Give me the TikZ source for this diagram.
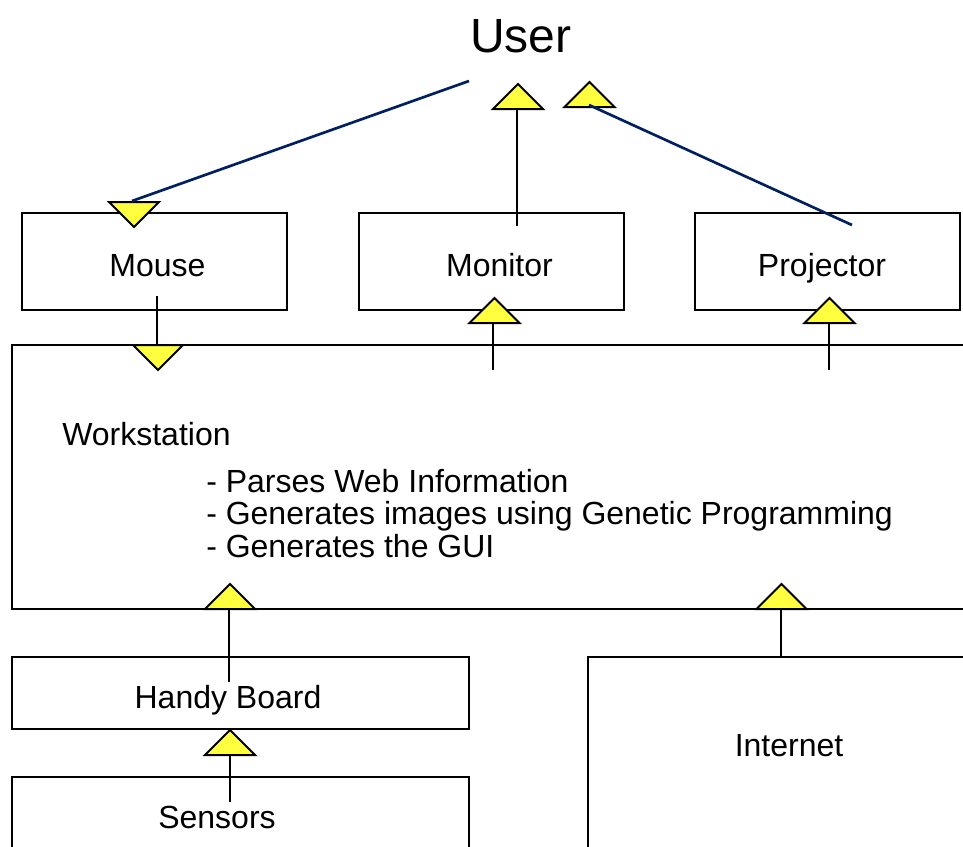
\documentclass[tikz,border=0pt]{standalone}
\usepackage{fontspec}
\setmainfont{Liberation Sans}
\usetikzlibrary{fit}
\definecolor{navyline}{RGB}{0,32,96}
\definecolor{triyellow}{RGB}{255,255,64}
\begin{document}
\begin{tikzpicture}[x=0.75pt,y=-0.75pt,
  box/.style={draw=black,line width=1.5pt,inner sep=0pt,outer sep=0pt},
  lbl/.style={inner sep=0pt,anchor=base,font=\fontsize{24}{28}\selectfont},
  lbll/.style={inner sep=0pt,anchor=base west,font=\fontsize{24}{28}\selectfont},
  conn/.style={draw=black,line width=1.1pt},
  navyconn/.style={draw=navyline,line width=2pt},
  tri/.style={draw=black,fill=triyellow,line width=1.5pt,line join=miter},
  pics/uptri/.style={code={\draw[tri] (-25,0) -- (25,0) -- (0,-25) -- cycle;}},
  pics/downtri/.style={code={\draw[tri] (-25,0) -- (25,0) -- (0,25) -- cycle;}}
]
\useasboundingbox (0,0) rectangle (963,846);
\clip (0,0) rectangle (963,846);

% boxes
\node[box,fit={(22,213) (287,310)}] (mouse) {};
\node[box,fit={(359,213) (624,310)}] (monitor) {};
\node[box,fit={(695,213) (960,310)}] (projector) {};
\node[box,fit={(12,345) (1000,609)}] (workstation) {};
\node[box,fit={(12,657) (469,729)}] (handy) {};
\node[box,fit={(12,777) (469,900)}] (sensors) {};
\node[box,fit={(588,657) (1000,900)}] (internet) {};

% texts
\node[lbl,font=\fontsize{36}{40}\selectfont] (user) at (521,52) {User};
\node[lbl] (mouseT) at (157.5,276.5) {Mouse};
\node[lbl] (monitorT) at (499.5,276.5) {Monitor};
\node[lbl] (projectorT) at (822,276.5) {Projector};
\node[lbll] (wsT) at (62,445.5) {Workstation};
\node[lbll] (ws1) at (206,492.5) {- Parses Web Information};
\node[lbll] (ws2) at (206,524.5) {- Generates images using Genetic Programming};
\node[lbll] (ws3) at (206,557.5) {- Generates the GUI};
\node[lbl] (handyT) at (228,708.5) {Handy Board};
\node[lbl] (sensorsT) at (217,828.5) {Sensors};
\node[lbl] (internetT) at (789,756.5) {Internet};

% triangles
\pic at (134,202) {downtri};
\pic at (518,109) {uptri};
\pic at (589.5,107) {uptri};
\pic at (158,345) {downtri};
\pic at (494.5,323) {uptri};
\pic at (829.5,323) {uptri};
\pic at (230,609) {uptri};
\pic at (781.5,609) {uptri};
\pic at (230,755) {uptri};

% connector end points
\coordinate (userL) at (469,81);
\coordinate (mouseTop) at (132,201);
\coordinate (monUp) at (517,109);
\coordinate (monIn) at (517,226);
\coordinate (projUp) at (589,105);
\coordinate (projIn) at (852,225);
\coordinate (mouseIn) at (157,296);
\coordinate (wsTopL) at (157,345);
\coordinate (monBot) at (493,323);
\coordinate (wsIn1) at (493,370);
\coordinate (projBot) at (829,323);
\coordinate (wsIn2) at (829,370);
\coordinate (wsBotL) at (229,609);
\coordinate (handyIn) at (229,682);
\coordinate (handyBot) at (230,755);
\coordinate (sensIn) at (230,802);
\coordinate (wsBotR) at (781,609);
\coordinate (netTop) at (781,657);

% connectors
\draw[navyconn] (userL) -- (mouseTop);
\draw[conn] (monUp) -- (monIn);
\draw[navyconn] (projUp) -- (projIn);
\draw[conn] (mouseIn) -- (wsTopL);
\draw[conn] (monBot) -- (wsIn1);
\draw[conn] (projBot) -- (wsIn2);
\draw[conn] (wsBotL) -- (handyIn);
\draw[conn] (handyBot) -- (sensIn);
\draw[conn] (wsBotR) -- (netTop);
\end{tikzpicture}
\end{document}
